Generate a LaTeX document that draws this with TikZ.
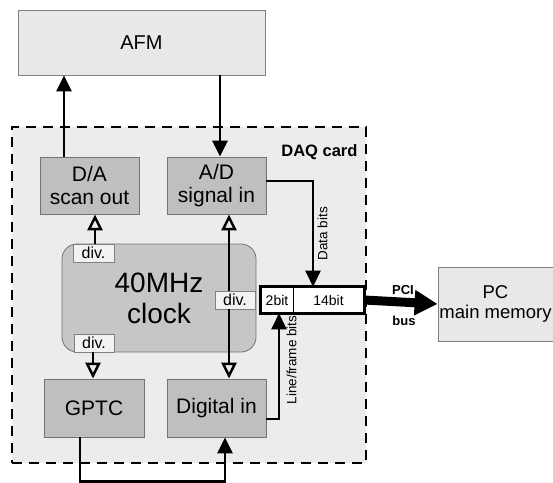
\documentclass[tikz,border=0pt]{standalone}
\usepackage{fontspec}
\setmainfont{Liberation Sans}
\usetikzlibrary{arrows.meta}

\begin{document}
\begin{tikzpicture}[x=1pt,y=-1pt,
    blk/.style={draw=gray!90!black,fill=gray!50,line width=0.8pt,inner sep=0pt,align=center,
      minimum height=57pt,font=\fontsize{21}{23}\selectfont},
    host/.style={draw=gray,fill=gray!18,line width=0.8pt,inner sep=0pt,align=center},
    divbox/.style={draw=gray,fill=gray!10,line width=0.8pt,inner sep=0pt,
      minimum width=41pt,minimum height=18pt,font=\fontsize{16}{16}\selectfont},
    regbox/.style={draw,fill=white,line width=0.6pt,inner sep=0pt,minimum height=26pt,
      font=\fontsize{14}{14}\selectfont},
    arr/.style={line width=2.5pt,-{Triangle[length=16pt,width=15pt]}},
    oarr/.style={line width=2.5pt,-{Triangle[open,length=16pt,width=15pt]}},
    tag/.style={font=\fontsize{13.5}{13.5}\selectfont,rotate=90}]
                \useasboundingbox (0,0) rectangle (553,482);

                \path (141.5,42.5) node[host,minimum width=247pt,minimum height=65pt,
                  font=\fontsize{20}{20}\selectfont] (afm) {AFM};
                \path (495.5,304) node[host,minimum width=115pt,minimum height=74pt,
                  font=\fontsize{18.5}{20}\selectfont] (pc) {PC\\main memory};

                \path (189,295) node[draw,fill=gray!15,line width=2.8pt,dash pattern=on 10pt off 7pt,
                  minimum width=354pt,minimum height=336pt] (daq) {};
                \path (361,152) node[anchor=east,font=\bfseries\fontsize{16.5}{16.5}\selectfont] (daqlabel) {DAQ card};

                \path (89.5,185.5) node[blk,minimum width=99pt] (da) {D/A\\scan out};
                \path (216.5,185.5) node[blk,minimum width=99pt] (ad) {A/D\\signal in};
                \path (94,408) node[blk,minimum width=100pt,minimum height=58pt] (gptc) {GPTC};
                \path (216.5,408) node[blk,minimum width=99pt,minimum height=58pt] (dig) {Digital in};
                \path (159,298) node[draw=gray!90!black,fill=gray!45,line width=0.8pt,rounded corners=15pt,
                  minimum width=194pt,minimum height=108pt,inner sep=0pt,align=center,
                  font=\fontsize{28}{31}\selectfont] (clock) {40MHz\\clock};

                \path (277,300) node[regbox,minimum width=32pt] (reg2) {2bit};
                \path (328.5,300) node[regbox,minimum width=71pt] (reg14) {14bit};
                \draw[line width=2.5pt] (reg2.north west) rectangle (reg14.south east);

                \draw[arr] ([xshift=-25.5]da.north) -- ([xshift=-25.5]da.north |- afm.south);
                \draw[arr] ([xshift=78.5]afm.south) -- ([xshift=3.5]ad.north);
                \draw[arr] ([yshift=4.5]ad.east) -| ([xshift=-15.5]reg14.north)
                  node[pos=0.75,tag,below] (datalabel) {Data bits};
                \draw[arr] ([yshift=-11]dig.east) -| ([xshift=2]reg2.south)
                  node[pos=0.78,tag,below,yshift=-3pt] (linelabel) {Line/frame bits};
                \draw[arr] ([xshift=-14]gptc.south) -- ++(0,44) -| ([xshift=8.5]dig.south);

                \path (93.5,253) node[divbox] (divtl) {div.};
                \path (235,300) node[divbox,minimum width=40pt] (divr) {div.};
                \path (94,343) node[divbox,minimum width=40pt] (divbl) {div.};

                \draw[oarr] ([xshift=1.5]divtl.north) -- ([xshift=1.5]divtl.north |- da.south);
                \draw[oarr] ([xshift=-1]divbl.south) -- ([xshift=-1]divbl.south |- gptc.north);
                \draw[oarr] ([xshift=-6]divr.north) -- ([xshift=-6]divr.north |- ad.south);
                \draw[oarr] ([xshift=-6]divr.south) -- ([xshift=-6]divr.south |- dig.north);

                \draw[line width=9pt,-{Triangle[length=23pt,width=24pt]}] (reg14.east) -- (pc.west);
                \path (403,290) node[font=\bfseries\fontsize{13}{13}\selectfont] (pcilabel) {PCI};
                \path (404,321) node[font=\bfseries\fontsize{13}{13}\selectfont] (buslabel) {bus};
              \end{tikzpicture}
\end{document}
